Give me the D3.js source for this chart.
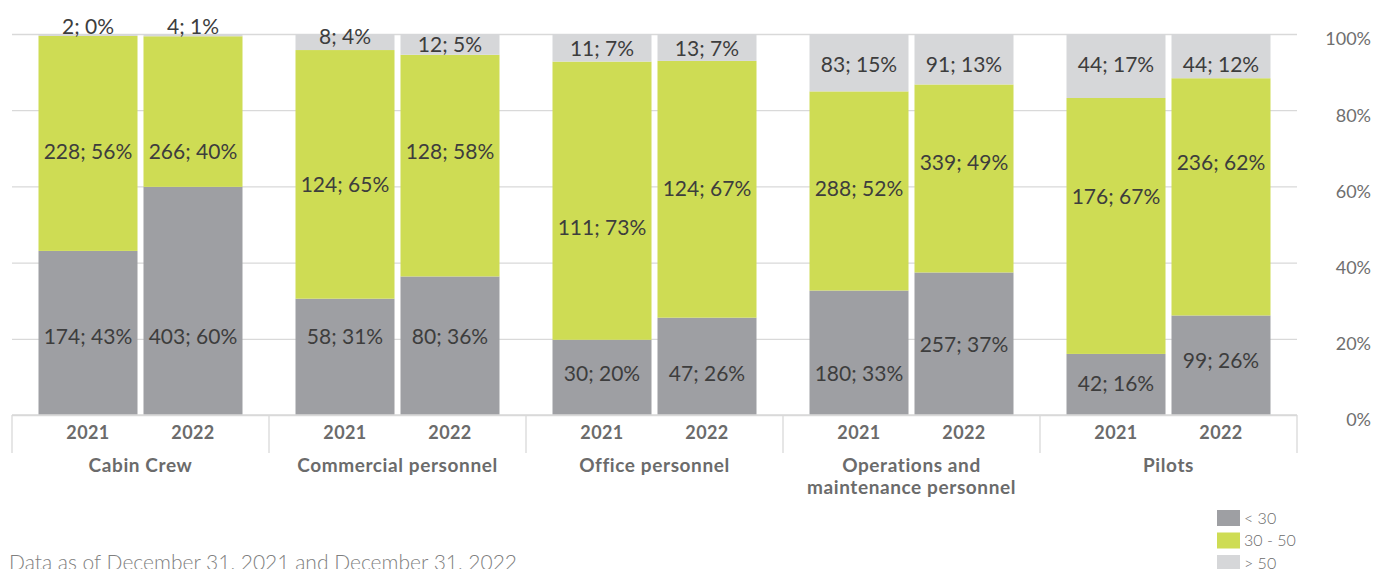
<!DOCTYPE html>
<html>
<head>
<meta charset="utf-8">
<script src="https://cdn.jsdelivr.net/npm/d3@7/dist/d3.min.js"></script>
<style>
  html, body { margin: 0; padding: 0; background: #ffffff; }
  svg { display: block; }
</style>
</head>
<body>
<svg id="chart" width="1375" height="569"></svg>
<script>
// Employees by age band, per staff group and year (head counts)
const categories = ["Cabin Crew", "Commercial personnel", "Office personnel",
                    "Operations and maintenance personnel", "Pilots"];
const categoryLines = [["Cabin Crew"], ["Commercial personnel"], ["Office personnel"],
                       ["Operations and", "maintenance personnel"], ["Pilots"]];
const years = ["2021", "2022"];
const ageBands = ["< 30", "30 - 50", "> 50"];

// one value per (category, year), in category order, 2021 then 2022
const under30    = [174, 403, 58, 80, 30, 47, 180, 257, 42, 99];
const from30to50 = [228, 266, 124, 128, 111, 124, 288, 339, 176, 236];
const over50     = [2, 4, 8, 12, 11, 13, 83, 91, 44, 44];

const percentTicks = [0, 0.2, 0.4, 0.6, 0.8, 1];
const footnote = "Data as of December 31, 2021 and December 31, 2022";

// hand-placed heights of the value labels, on the 0–1 share axis
const labelAtUnder30 = [0.206, 0.206, 0.206, 0.206, 0.109, 0.109, 0.109, 0.184, 0.083, 0.144];
const labelAtMid     = [0.691, 0.691, 0.604, 0.691, 0.492, 0.595, 0.595, 0.662, 0.573, 0.662];
const labelAtOver50  = [1.019, 1.019, 0.993, 0.973, 0.962, 0.962, 0.920, 0.920, 0.919, 0.919];

const colors = ["#9e9fa3", "#cedc54", "#d6d7d9"];

// ---- layout ----
const plotLeft = 12, plotRight = 1297, plotTop = 34, plotBottom = 415;
const svg = d3.select("#chart");

const rows = [];
categories.forEach((c, ci) => {
  years.forEach((yr, yi) => {
    const i = ci * years.length + yi;
    rows.push({ category: c, year: yr, idx: i,
      "< 30": under30[i], "30 - 50": from30to50[i], "> 50": over50[i] });
  });
});
const labelAt = [labelAtUnder30, labelAtMid, labelAtOver50];

const x0 = d3.scaleBand().domain(categories).range([plotLeft, plotRight]).padding(0);
const x1 = d3.scaleBand().domain(years).range([0, x0.bandwidth()])
  .paddingInner(0.0571).paddingOuter(0.2524);
const y = d3.scaleLinear().domain([0, 1]).range([plotBottom, plotTop]);
const color = d3.scaleOrdinal().domain(ageBands).range(colors);

const series = d3.stack().keys(ageBands).offset(d3.stackOffsetExpand)(rows);

// gridlines
const grid = svg.append("g")
  .attr("transform", `translate(${plotRight},0)`)
  .call(d3.axisLeft(y).tickValues(percentTicks).tickSize(plotRight - plotLeft).tickFormat(""));
grid.select(".domain").remove();
grid.selectAll(".tick line").attr("stroke", "#d9d9d9").attr("stroke-width", 1.3);

// right-hand percentage labels
const yLab = svg.append("g")
  .attr("transform", `translate(${plotRight},0)`)
  .call(d3.axisRight(y).tickValues(percentTicks).tickSize(0).tickFormat(d3.format(".0%")));
yLab.select(".domain").remove();
yLab.selectAll(".tick text")
  .attr("x", 1371 - plotRight)
  .attr("dy", "0.60em")
  .attr("text-anchor", "end")
  .style("font-family", "Lato, sans-serif")
  .style("font-size", "18px")
  .style("fill", "#6f6f6f");

// stacked bars
const layer = svg.append("g").selectAll("g")
  .data(series).join("g")
  .attr("fill", d => color(d.key));
layer.selectAll("rect")
  .data(d => d)
  .join("rect")
  .attr("x", d => x0(d.data.category) + x1(d.data.year))
  .attr("width", x1.bandwidth())
  .attr("y", d => y(d[1]))
  .attr("height", d => y(d[0]) - y(d[1]));

// value labels: "count; share%"
const pct = v => Math.round(v * 100) + "%";
svg.append("g").selectAll("g")
  .data(series).join("g")
  .each(function (s, si) {
    d3.select(this).selectAll("text")
      .data(s).join("text")
      .attr("x", d => x0(d.data.category) + x1(d.data.year) + x1.bandwidth() / 2)
      .attr("y", d => y(labelAt[si][d.data.idx]))
      .attr("dy", "0.36em")
      .attr("text-anchor", "middle")
      .style("font-family", "Lato, sans-serif")
      .style("font-size", "21px")
      .style("fill", "#3d3d3d")
      .text(d => `${d.data[s.key]}; ${pct(d[1] - d[0])}`);
  });

// category axis: baseline, group separators, year and group labels
svg.append("line")
  .attr("x1", plotLeft).attr("x2", plotRight).attr("y1", plotBottom).attr("y2", plotBottom)
  .attr("stroke", "#d9d9d9").attr("stroke-width", 1.3);
const seps = categories.map(c => x0(c)).concat([plotRight]);
svg.append("g").selectAll("line")
  .data(seps).join("line")
  .attr("x1", d => d).attr("x2", d => d)
  .attr("y1", plotBottom).attr("y2", 453)
  .attr("stroke", "#d9d9d9").attr("stroke-width", 1.3);

const groups = svg.append("g").selectAll("g")
  .data(categories).join("g")
  .attr("transform", c => `translate(${x0(c)},0)`);
groups.selectAll("text.year")
  .data(years).join("text")
  .attr("class", "year")
  .attr("x", yr => x1(yr) + x1.bandwidth() / 2)
  .attr("y", 439)
  .attr("text-anchor", "middle")
  .style("font-family", "Lato, sans-serif")
  .style("font-weight", "700")
  .style("font-size", "18px")
  .style("letter-spacing", "0.4px")
  .style("fill", "#6b6b6b")
  .text(yr => yr);
groups.append("text")
  .attr("x", x0.bandwidth() / 2)
  .attr("y", 472)
  .attr("text-anchor", "middle")
  .style("font-family", "Lato, sans-serif")
  .style("font-weight", "700")
  .style("font-size", "19px")
  .style("letter-spacing", "0.6px")
  .style("fill", "#6b6b6b")
  .selectAll("tspan")
  .data((c, i) => categoryLines[i]).join("tspan")
  .attr("x", x0.bandwidth() / 2)
  .attr("dy", (d, i) => i === 0 ? 0 : 21.7)
  .text(d => d);

// legend
const legend = svg.append("g").attr("transform", "translate(1217,510)");
const li = legend.selectAll("g").data(ageBands).join("g")
  .attr("transform", (d, i) => `translate(0,${i * 22.5})`);
li.append("rect").attr("width", 23).attr("height", 16).attr("fill", d => color(d));
li.append("text")
  .attr("x", 27).attr("y", 8).attr("dy", "0.36em")
  .style("font-family", "Lato, sans-serif")
  .style("font-weight", "300")
  .style("font-size", "16px")
  .style("fill", "#6b6b6b")
  .text(d => d);

// footnote
svg.append("text")
  .attr("x", 9).attr("y", 570)
  .style("font-family", "Lato, sans-serif")
  .style("font-weight", "300")
  .style("font-size", "21px")
  .style("fill", "#7f7f7f")
  .text(footnote);
</script>
</body>
</html>
